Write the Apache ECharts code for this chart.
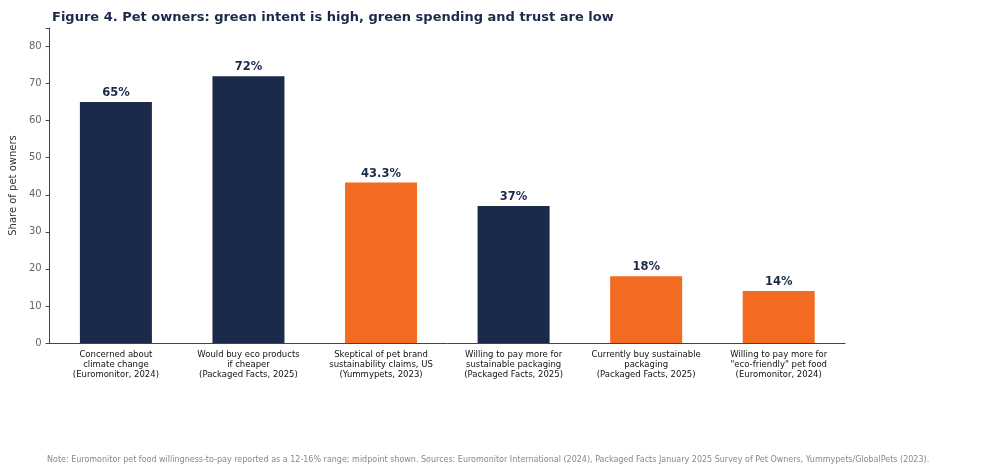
<!DOCTYPE html>
<html><head><meta charset="utf-8">
<script src="https://cdn.jsdelivr.net/npm/echarts@6/dist/echarts.min.js"></script>
<style>html,body{margin:0;padding:0;background:#fff}#c{width:1000px;height:475px}</style>
</head><body><div id="c"></div>
<script>
const categories = [
  "Concerned about\nclimate change\n(Euromonitor, 2024)",
  "Would buy eco products\nif cheaper\n(Packaged Facts, 2025)",
  "Skeptical of pet brand\nsustainability claims, US\n(Yummypets, 2023)",
  "Willing to pay more for\nsustainable packaging\n(Packaged Facts, 2025)",
  "Currently buy sustainable\npackaging\n(Packaged Facts, 2025)",
  "Willing to pay more for\n\"eco-friendly\" pet food\n(Euromonitor, 2024)"
];
const values = [65, 72, 43.3, 37, 18, 14];
const labels = ["65%", "72%", "43.3%", "37%", "18%", "14%"];
const colorGroup = ["navy", "navy", "orange", "navy", "orange", "orange"];
const palette = {navy: "#1b2a4a", orange: "#f26b21"};
const chart = echarts.init(document.getElementById('c'));
const F = "DejaVu Sans";
chart.setOption({
  animation: false,
  title: {text: "Figure 4. Pet owners: green intent is high, green spending and trust are low",
    left: 47, top: 6, textStyle: {fontFamily: F, fontSize: 13, fontWeight: "bold", color: "#1b2a4a"}},
  graphic: [{type: "text", left: 47, top: 456, style: {text: "Note: Euromonitor pet food willingness-to-pay reported as a 12-16% range; midpoint shown. Sources: Euromonitor International (2024), Packaged Facts January 2025 Survey of Pet Owners, Yummypets/GlobalPets (2023).", fontFamily: F, fontSize: 8, fill: "#888"}}],
  grid: {left: 47, right: 155, top: 28, bottom: 132},
  xAxis: {type: "category", data: categories,
    axisLine: {lineStyle: {color: "#444"}}, axisTick: {show: false},
    axisLabel: {fontFamily: F, fontSize: 8.5, color: "#111", lineHeight: 10, interval: 0, margin: 7}},
  yAxis: {type: "value", min: 0, max: 85, interval: 10,
    name: "Share of pet owners", nameLocation: "middle", nameGap: 30,
    nameTextStyle: {fontFamily: F, fontSize: 10, color: "#333"},
    axisLine: {show: true, lineStyle: {color: "#444"}},
    axisTick: {show: true, length: 4, lineStyle: {color: "#444"}},
    splitLine: {show: false},
    axisLabel: {fontFamily: F, fontSize: 10, color: "#666",
      formatter: v => v > 80 ? "" : v}},
  series: [{type: "bar", barWidth: 72,
    data: values.map((v, i) => ({value: v, itemStyle: {color: palette[colorGroup[i]]},
      label: {show: true, position: "top", formatter: labels[i], distance: 3,
        fontFamily: F, fontSize: 11.5, fontWeight: "bold", color: "#1b2a4a"}}))}]
});
</script></body></html>
